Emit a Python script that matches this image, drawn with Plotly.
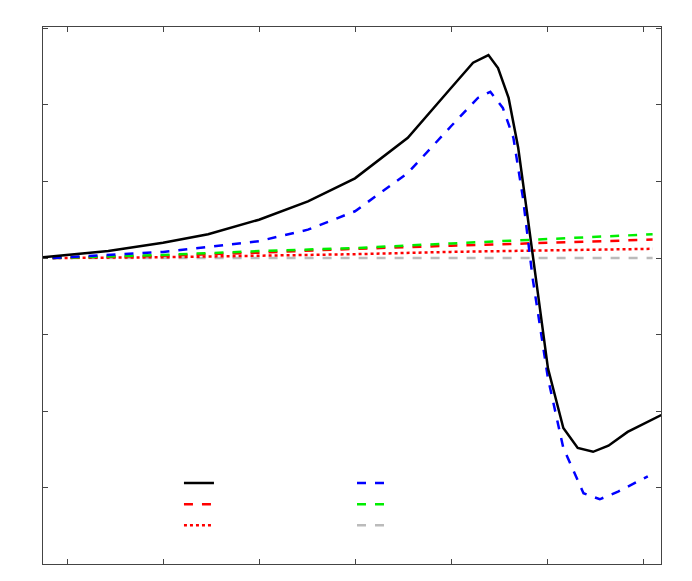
import plotly.graph_objects as go

x_black = [-0.25,0.43,1,1.47,2,2.51,3,3.55,4,4.23,4.39,4.49,4.6,4.7,4.8,4.91,5.01,5.17,5.32,5.48,5.64,5.84,6.19]
y_black = [0.01,0.09,0.2,0.31,0.5,0.74,1.04,1.57,2.22,2.55,2.65,2.48,2.09,1.44,0.52,-0.52,-1.44,-2.22,-2.48,-2.53,-2.45,-2.27,-2.05]
x_blue = [-0.15,1,2,2.51,3,3.55,4,4.28,4.41,4.54,4.65,4.75,4.85,5.01,5.17,5.38,5.55,5.74,6.05]
y_blue = [0,0.08,0.22,0.37,0.61,1.11,1.72,2.09,2.17,1.96,1.57,0.78,-0.26,-1.57,-2.48,-3.07,-3.15,-3.05,-2.85]
x_lin = [-0.15,1,2,3,4,5,6.1]
y_green = [0,0.04,0.09,0.13,0.19,0.25,0.31]
y_reddash = [0,0.03,0.07,0.12,0.16,0.20,0.24]
y_reddot = [0,0.01,0.03,0.05,0.08,0.10,0.12]
y_gray = [0,0,0,0,0,0,0]

fig = go.Figure()
def add(x, y, color, dash, leg):
    fig.add_trace(go.Scatter(x=x, y=y, mode="lines", name=" ", legend=leg,
                             line=dict(color=color, width=2.5, dash=dash)))
add(x_lin, y_gray, "#bbbbbb", "dash", "legend2")
add(x_lin, y_reddot, "red", "dot", "legend")
add(x_lin, y_reddash, "red", "dash", "legend")
add(x_lin, y_green, "#00ee00", "dash", "legend2")
add(x_blue, y_blue, "blue", "dash", "legend2")
add(x_black, y_black, "black", "solid", "legend")

axis = dict(showgrid=False, zeroline=False, showticklabels=False, ticks="inside",
            ticklen=5, mirror="ticks", showline=True, linecolor="#444", linewidth=1, dtick=1)
fig.update_layout(
    width=692, height=581, plot_bgcolor="white", paper_bgcolor="white",
    margin=dict(l=35, r=39, t=19, b=25),
    xaxis=dict(range=[-0.25, 6.1875], tick0=0, **axis),
    yaxis=dict(range=[-3.995, 3.016], tick0=0, **axis),
    legend=dict(x=0.22, y=0.18, xanchor="left", yanchor="top", bgcolor="rgba(0,0,0,0)",
                traceorder="reversed", font=dict(size=14), itemwidth=30),
    legend2=dict(x=0.5, y=0.18, xanchor="left", yanchor="top", bgcolor="rgba(0,0,0,0)",
                 traceorder="reversed", font=dict(size=14), itemwidth=30),
)
fig.write_html("out.html")
